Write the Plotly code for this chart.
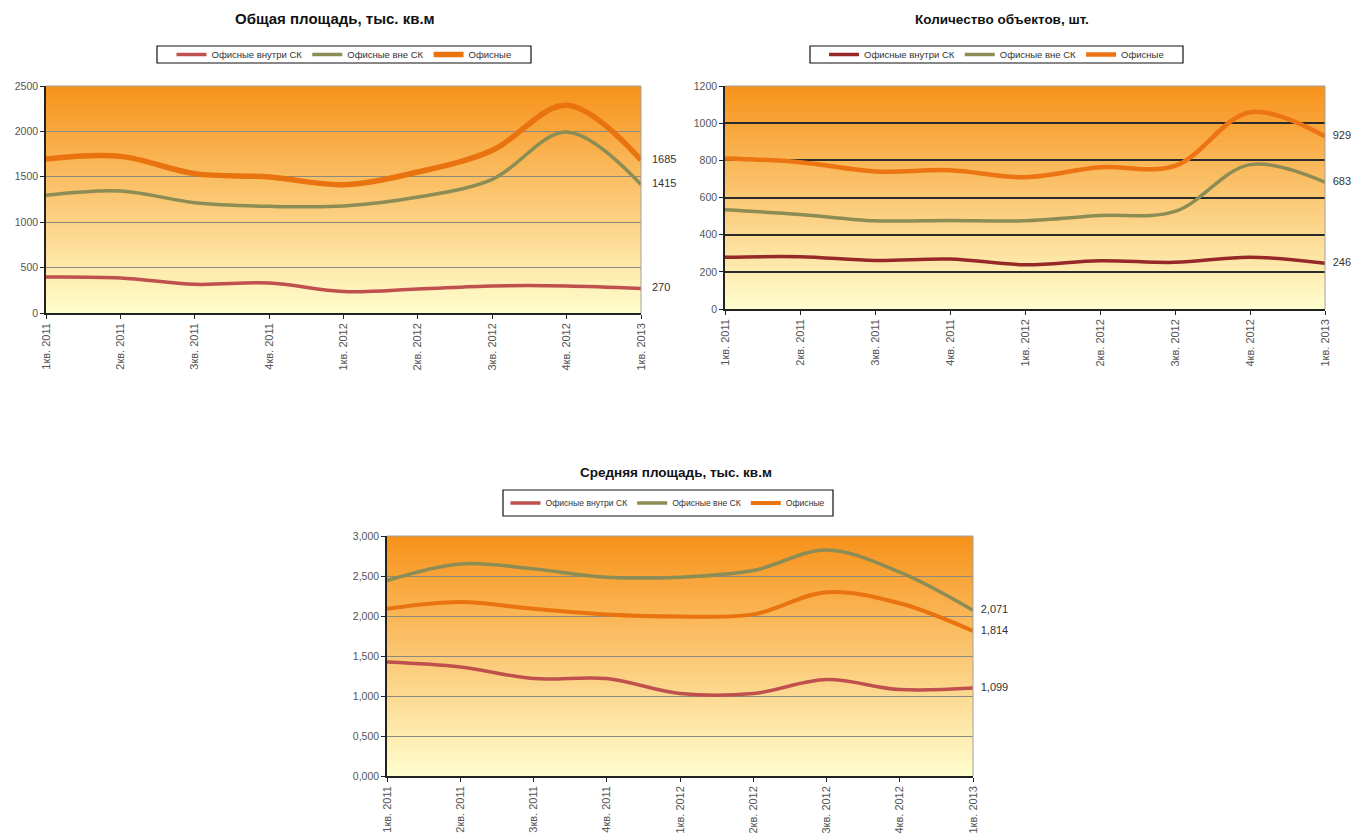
import base64
import struct
import zlib

import plotly.graph_objects as go

W, H = 1352, 834
OFF = 0

quarters = ["1кв. 2011", "2кв. 2011", "3кв. 2011", "4кв. 2011", "1кв. 2012",
            "2кв. 2012", "3кв. 2012", "4кв. 2012", "1кв. 2013"]
series_names = ["Офисные внутри СК", "Офисные вне СК", "Офисные"]

# Общая площадь, тыс. кв.м
area_inside = [396, 386, 316, 330, 236, 264, 298, 298, 270]
area_outside = [1296, 1344, 1215, 1175, 1178, 1277, 1472, 1993, 1415]
area_total = [1696, 1725, 1535, 1498, 1413, 1553, 1791, 2287, 1685]

# Количество объектов, шт.
count_inside = [278, 281, 261, 269, 238, 260, 251, 279, 246]
count_outside = [534, 509, 475, 476, 475, 503, 525, 777, 683]
count_total = [810, 790, 740, 747, 709, 763, 770, 1059, 929]

# Средняя площадь, тыс. кв.м
avg_inside = [1.425, 1.363, 1.218, 1.218, 1.031, 1.031, 1.205, 1.080, 1.099]
avg_outside = [2.443, 2.651, 2.589, 2.485, 2.485, 2.568, 2.826, 2.548, 2.071]
avg_total = [2.090, 2.174, 2.090, 2.020, 1.995, 2.020, 2.298, 2.160, 1.814]

titles = ["Общая площадь, тыс. кв.м", "Количество объектов, шт.", "Средняя площадь, тыс. кв.м"]

SANS = "Liberation Sans, Arial, sans-serif"


def px(x):
    return (x - OFF) / W


def py(y):
    return 1 - (y - OFF) / H


def gradient_png(top, bot, rows=256):
    raw = b""
    for r in range(rows):
        t = r / (rows - 1)
        c = bytes(round(top[j] + (bot[j] - top[j]) * t) for j in range(3))
        raw += b"\x00" + c * 2
    def chunk(tag, data):
        return (struct.pack(">I", len(data)) + tag + data +
                struct.pack(">I", zlib.crc32(tag + data) & 0xffffffff))
    png = b"\x89PNG\r\n\x1a\n"
    png += chunk(b"IHDR", struct.pack(">IIBBBBB", 2, rows, 8, 2, 0, 0, 0))
    png += chunk(b"IDAT", zlib.compress(raw, 9))
    png += chunk(b"IEND", b"")
    return "data:image/png;base64," + base64.b64encode(png).decode()


GRAD = gradient_png((247, 146, 26), (255, 254, 206))

fig = go.Figure()

# pixel boxes of plot areas: (x0, x1, ytop, ybottom)
boxes = [(46, 641, 86, 313), (725, 1325, 86, 309), (387, 973, 536, 776)]
legend_rects = [(157, 46, 531, 63), (810, 46, 1183, 63), (503, 490, 833, 516)]
title_pos = [(334.5, 19), (1002, 20), (675.5, 472)]

charts = [
    dict(data=[area_inside, area_outside, area_total], rng=[0, 2500], dtick=500, fmt="",
         grid="#8a8a80", gw=1, colors=["#C0504D", "#8C8C55", "#E8730F"], widths=[3.5, 3.5, 5.5],
         lab=lambda v: f"{v}", tsize=15, lsize=9.5, gap="\u2002\u2002"),
    dict(data=[count_inside, count_outside, count_total], rng=[0, 1200], dtick=200, fmt="",
         grid="#2a2a2a", gw=1.5, colors=["#962828", "#8C8C55", "#EC7412"], widths=[3.5, 3.5, 4.5],
         lab=lambda v: f"{v}", tsize=13.5, lsize=9.5, gap="\u2002\u2009"),
    dict(data=[avg_inside, avg_outside, avg_total], rng=[0, 3], dtick=0.5, fmt=".3f",
         grid="#8a8a80", gw=1, colors=["#C0504D", "#8C8C55", "#E8730F"], widths=[3.5, 3.5, 4],
         lab=lambda v: f"{v:.3f}".replace(".", ","), tsize=13.5, lsize=8.6, gap="\u2002\u2009"),
]

shapes = []
annotations = []
images = []
for i, ch in enumerate(charts):
    n = i + 1
    sfx = "" if n == 1 else str(n)
    x0, x1, yt, yb = boxes[i]
    xd = [px(x0), px(x1)]
    yd = [py(yb), py(yt)]
    fig.update_layout(**{
        f"xaxis{sfx}": dict(domain=xd, anchor=f"y{sfx}", type="category", range=[0, 8],
                            showline=True, linecolor="#222", linewidth=1.5, ticks="outside",
                            ticklen=4, tickcolor="#222", tickangle=-90, showgrid=False,
                            automargin=False,
                            tickfont=dict(family=SANS, size=11, color="#555")),
        f"yaxis{sfx}": dict(domain=yd, anchor=f"x{sfx}", range=ch["rng"], dtick=ch["dtick"],
                            tick0=0, tickformat=ch["fmt"], showline=True, linecolor="#222",
                            linewidth=1.5, ticks="outside", ticklen=4, tickcolor="#222",
                            showgrid=True, gridcolor=ch["grid"], gridwidth=ch["gw"],
                            zeroline=False, automargin=False,
                            tickfont=dict(family=SANS, size=10.5, color="#555")),
    })
    # gradient plot-area background
    images.append(dict(source=GRAD, xref="paper", yref="paper", x=xd[0], y=yd[1],
                       sizex=xd[1] - xd[0], sizey=yd[1] - yd[0], sizing="stretch",
                       xanchor="left", yanchor="top", layer="below"))
    xr = f"x{sfx} domain"
    yr = f"y{sfx} domain"
    # gray top and right border
    shapes.append(dict(type="line", xref=xr, yref=yr, x0=0, x1=1, y0=1, y1=1,
                       line=dict(color="#a0a0a0", width=1)))
    shapes.append(dict(type="line", xref=xr, yref=yr, x0=1, x1=1, y0=0, y1=1,
                       line=dict(color="#a0a0a0", width=1)))

    # legend frame
    lx0, ly0, lx1, ly1 = legend_rects[i]
    shapes.append(dict(type="rect", xref="paper", yref="paper", x0=px(lx0), x1=px(lx1),
                       y0=py(ly1), y1=py(ly0), fillcolor="white",
                       line=dict(color="#111", width=1.2)))

    lname = "legend" if n == 1 else f"legend{n}"
    for s in range(3):
        vals = ch["data"][s]
        txt = [""] * (len(vals) - 1) + [ch["gap"] + ch["lab"](vals[-1])]
        fig.add_trace(go.Scatter(
            x=quarters, y=vals, name=series_names[s], mode="lines+text",
            text=txt, textposition="middle right",
            textfont=dict(family=SANS, size=11, color="#333"),
            line=dict(color=ch["colors"][s], width=ch["widths"][s], shape="spline", smoothing=1),
            xaxis=f"x{sfx}", yaxis=f"y{sfx}", legend=lname, cliponaxis=False,
            hoverinfo="skip"))
    fig.update_layout(**{lname: dict(
        x=px((lx0 + lx1) / 2), y=py((ly0 + ly1) / 2), xanchor="center", yanchor="middle",
        orientation="h", bgcolor="rgba(0,0,0,0)", borderwidth=0,
        font=dict(family=SANS, size=ch["lsize"], color="#333"),
        itemwidth=30, tracegroupgap=0)})
    tx, ty = title_pos[i]
    annotations.append(dict(text=f"<b>{titles[i]}</b>", x=px(tx), y=py(ty),
                            xref="paper", yref="paper", xanchor="center", yanchor="middle",
                            showarrow=False,
                            font=dict(family=SANS, size=ch["tsize"], color="#111")))

fig.update_layout(width=W, height=H, autosize=False, margin=dict(l=0, r=0, t=0, b=0, pad=0),
                  paper_bgcolor="white", plot_bgcolor="white", separators=", ",
                  hovermode=False,
                  shapes=shapes, annotations=annotations, images=images, showlegend=True)

fig.write_html("out.html", config={"displayModeBar": False},
               post_script="document.body.style.margin='0';document.body.style.overflow='hidden';")
